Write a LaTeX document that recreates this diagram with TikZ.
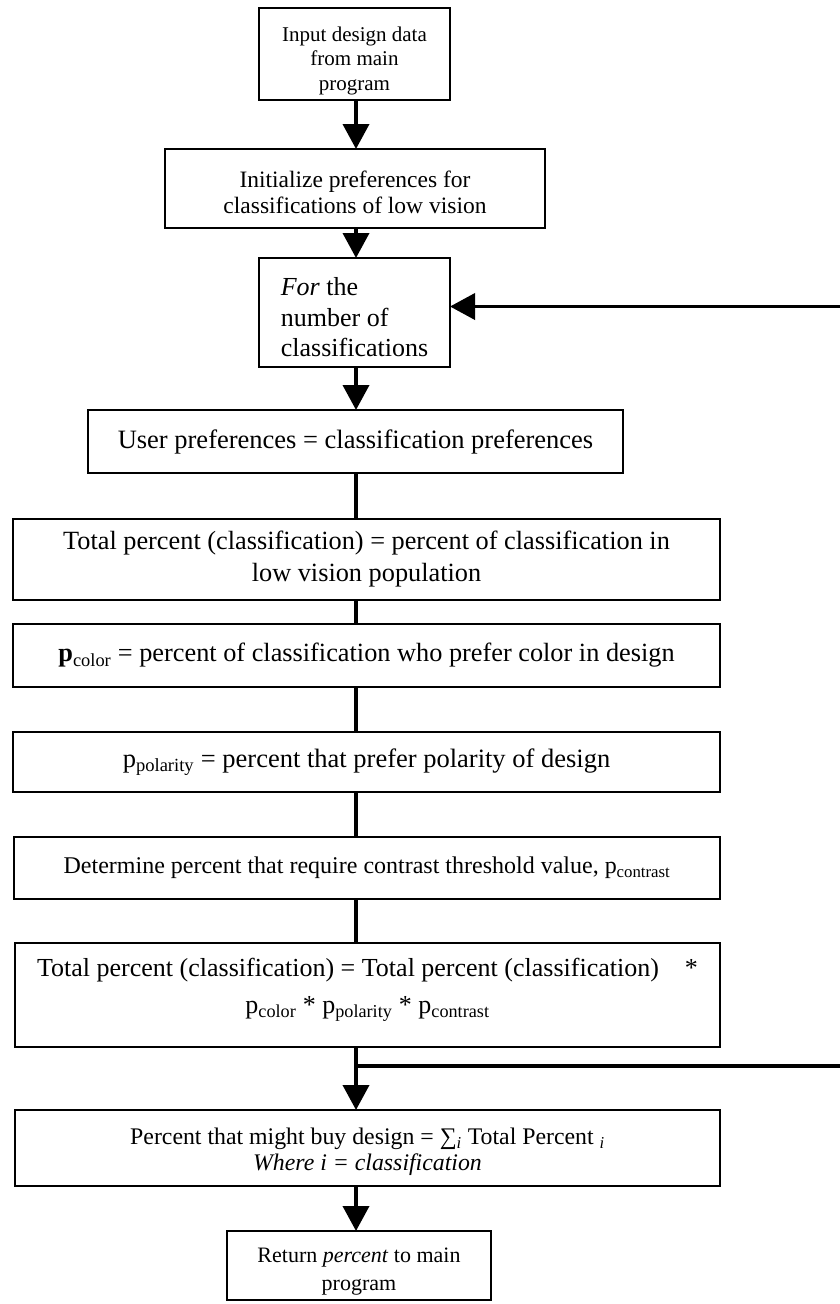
\documentclass[tikz,border=0pt]{standalone}
\usepackage{fontspec}
\setmainfont{Liberation Serif}
\usetikzlibrary{arrows.meta,calc}

\newcommand{\fsz}[2]{\fontsize{#1}{#2}\selectfont}
% invisible strut on a first line: lowers the text block inside its box
\newcommand{\lowerby}[1]{\rule{0pt}{#1}}

\tikzset{
  stepbox/.style={draw, line width=2.6pt, inner sep=0pt, outer sep=0pt,
    anchor=north west, align=center},
  flow/.style={line width=3.8pt},
  flowarrow/.style={flow, -{Triangle[length=25pt,width=26pt]}},
}

\begin{document}
\begin{tikzpicture}[x=1pt,y=-1pt]
\useasboundingbox (0,0) rectangle (840,1304);
\coordinate (col) at (356,0);
\coordinate (loopedge) at (870,0);

% process boxes, top to bottom
\node[stepbox, minimum width=191pt, minimum height=92pt, font={\fsz{21}{24.5}}]
  (input) at (259,8) {\lowerby{28pt}Input design data\\from main\\program};
\node[stepbox, minimum width=380pt, minimum height=79pt, font={\fsz{23.5}{25.5}}]
  (init) at (165,149) {\lowerby{24pt}Initialize preferences for\\classifications of low vision};
\node[stepbox, minimum width=191pt, minimum height=109pt, align=left, font={\fsz{26}{30.5}}]
  (forloop) at (259,258) {\lowerby{28pt}\textit{For} the\\number of\\classifications};
\node[stepbox, minimum width=535pt, minimum height=63pt, font={\fsz{26.5}{28}}]
  (user) at (88,410) {User preferences = classification preferences};
\node[stepbox, minimum width=707pt, minimum height=81pt, font={\fsz{26.3}{32}}]
  (total) at (13,519) {Total percent (classification) = percent of classification in\\low vision population};
\node[stepbox, minimum width=707pt, minimum height=63pt, font={\fsz{26.3}{28}}]
  (color) at (13,624) {\textbf{p}\textsubscript{color} = percent of classification who prefer color in design};
\node[stepbox, minimum width=707pt, minimum height=60pt, font={\fsz{26.5}{28}}]
  (polarity) at (13,732) {p\textsubscript{polarity} = percent that prefer polarity of design};
\node[stepbox, minimum width=706pt, minimum height=62pt, font={\fsz{24}{26}}]
  (contrast) at (14,837) {Determine percent that require contrast threshold value, p\textsubscript{contrast}};
\node[stepbox, minimum width=705pt, minimum height=104pt]
  (product) at (15,943) {};
\node[anchor=north, align=center, inner sep=0pt, font={\fsz{26}{37}}]
  (producttext) at ($(product.north)+(0,15)$)
  {Total percent (classification) = Total percent (classification)\quad *\\
   p\textsubscript{color} * p\textsubscript{polarity} * p\textsubscript{contrast}};
\node[stepbox, minimum width=705pt, minimum height=76pt, font={\fsz{23.8}{26}}]
  (buy) at (15,1110) {\lowerby{24pt}Percent that might buy design = ∑\textsubscript{\textit{i}} Total Percent \textsubscript{\textit{i}}\\
   \textit{Where i = classification}};
\node[stepbox, minimum width=264pt, minimum height=69pt, font={\fsz{22}{28}}]
  (return) at (227,1231) {\lowerby{27pt}Return \textit{percent} to main\\program};

% main flow
\draw[flowarrow] (input.south -| col) -- (init.north -| col);
\draw[flowarrow] (init.south -| col) -- (forloop.north -| col);
\draw[flowarrow] (forloop.south -| col) -- (user.north -| col);
\draw[flow] (user.south -| col) -- (total.north -| col);
\draw[flow] (total.south -| col) -- (color.north -| col);
\draw[flow] (color.south -| col) -- (polarity.north -| col);
\draw[flow] (polarity.south -| col) -- (contrast.north -| col);
\draw[flow] (contrast.south -| col) -- (product.north -| col);
\draw[flowarrow] (product.south -| col) -- (buy.north -| col);
\draw[flowarrow] (buy.south -| col) -- (return.north -| col);

% loop back to the next classification
\coordinate (branch) at ($(product.south -| col)+(0,19)$);
\coordinate (loopout) at (branch -| loopedge);
\coordinate (loopin) at ($(forloop.east)+(0,-6)$);
\draw[flowarrow] (branch) -- (loopout) |- (loopin);
\end{tikzpicture}
\end{document}
